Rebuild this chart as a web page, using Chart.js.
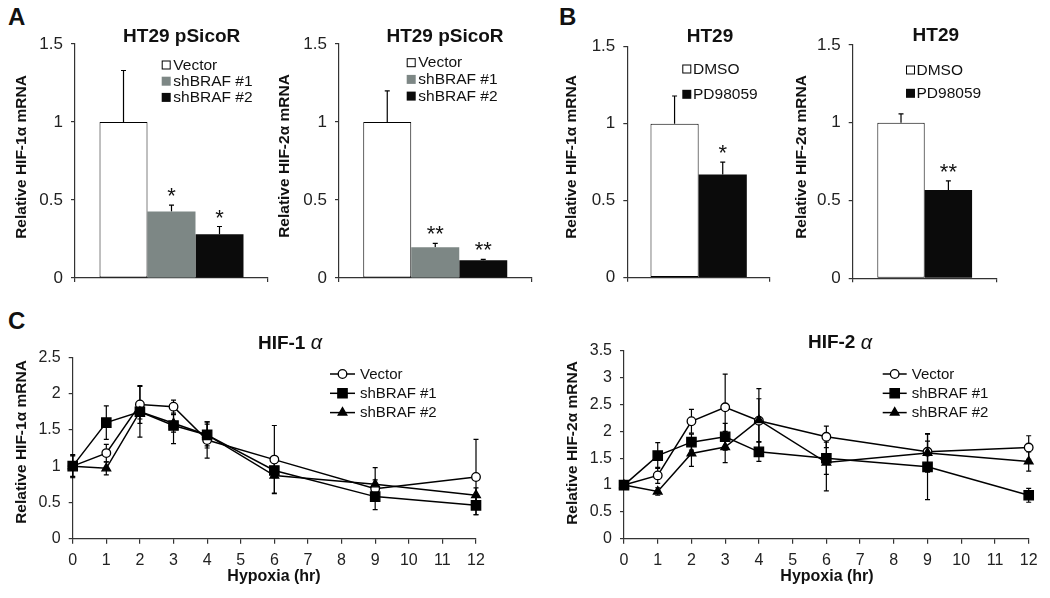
<!DOCTYPE html>
<html>
<head>
<meta charset="utf-8">
<script src="https://cdn.jsdelivr.net/npm/chart.js@4.4.0/dist/chart.umd.min.js"></script>
<style>
  html, body { margin: 0; padding: 0; background: #fff; }
  #fig { position: relative; width: 1050px; height: 598px; overflow: hidden; font-family: 'Liberation Sans', Arial, sans-serif; }
  canvas { position: absolute; }
  .tag { position: absolute; font-weight: bold; font-size: 24px; line-height: 24px; color: #111; }
</style>
</head>
<body>
<div id="fig">
  <div class="tag" style="left:8px;top:5px">A</div>
  <div class="tag" style="left:559px;top:5px">B</div>
  <div class="tag" style="left:8px;top:309px">C</div>
  <canvas id="a1" width="272" height="300" style="left:0;top:0"></canvas>
  <canvas id="a2" width="272" height="300" style="left:262px;top:0"></canvas>
  <canvas id="b1" width="235" height="300" style="left:540px;top:0"></canvas>
  <canvas id="b2" width="215" height="300" style="left:790px;top:0"></canvas>
  <canvas id="c1" width="500" height="298" style="left:0;top:300px"></canvas>
  <canvas id="c2" width="530" height="298" style="left:520px;top:300px"></canvas>
</div>
<script>
// --- panel A: HT29 pSicoR, shBRAF knockdown ---
const shLabels = ['Vector', 'shBRAF #1', 'shBRAF #2'];
const a1Values = [1.0, 0.427, 0.28];   // HIF-1a
const a1Errors = [0.33, 0.04, 0.05];
const a1Stars = ['', '*', '*'];
const a2Values = [1.0, 0.197, 0.113];  // HIF-2a
const a2Errors = [0.20, 0.025, 0.007];
const a2Stars = ['', '**', '**'];

// --- panel B: HT29, PD98059 ---
const pdLabels = ['DMSO', 'PD98059'];
const b1Values = [1.0, 0.67];
const b1Errors = [0.18, 0.08];
const b1Stars = ['', '*'];
const b2Values = [1.0, 0.568];
const b2Errors = [0.057, 0.058];
const b2Stars = ['', '**'];

// --- panel C: hypoxia time course ---
const hours = [0, 1, 2, 3, 4, 6, 9, 12];
const hif1Vector = [1.00, 1.18, 1.85, 1.82, 1.36, 1.09, 0.69, 0.85];
const hif1Sh1    = [1.00, 1.60, 1.75, 1.56, 1.43, 0.94, 0.58, 0.46];
const hif1Sh2    = [1.00, 0.97, 1.75, 1.59, 1.43, 0.87, 0.75, 0.60];
const hif1VectorErr = [0.15, 0.12, 0.26, 0.09, 0.25, 0.47, 0.12, 0.52];
const hif1Sh1Err    = [0.16, 0.23, 0.35, 0.25, 0.18, 0.10, 0.18, 0.13];
const hif1Sh2Err    = [0.14, 0.09, 0.10, 0.12, 0.15, 0.24, 0.23, 0.10];

const hif2Vector = [1.00, 1.18, 2.19, 2.45, 2.20, 1.90, 1.62, 1.70];
const hif2Sh1    = [1.00, 1.55, 1.80, 1.90, 1.62, 1.50, 1.34, 0.81];
const hif2Sh2    = [1.00, 0.88, 1.59, 1.71, 2.21, 1.42, 1.60, 1.44];
const hif2VectorErr = [0.05, 0.15, 0.22, 0.62, 0.60, 0.20, 0.20, 0.22];
const hif2Sh1Err    = [0.05, 0.24, 0.15, 0.25, 0.18, 0.30, 0.61, 0.13];
const hif2Sh2Err    = [0.05, 0.07, 0.24, 0.29, 0.40, 0.53, 0.36, 0.18];

const FONT = "'Liberation Sans', Arial, sans-serif";
const AXIS = '#333';
const shColors = ['#ffffff', '#7d8785', '#0b0b0b'];
const pdColors = ['#ffffff', '#0b0b0b'];

Chart.defaults.font.family = FONT;
Chart.defaults.color = '#222';

function numTick(v) { return String(+v.toFixed(2)); }

function marker(ctx, style, x, y, r) {
  ctx.beginPath();
  if (style === 'circle') {
    ctx.arc(x, y, r, 0, Math.PI * 2);
    ctx.fillStyle = '#fff';
  } else if (style === 'rect') {
    const s = r * Math.SQRT1_2;
    ctx.rect(x - s, y - s, 2 * s, 2 * s);
    ctx.fillStyle = '#000';
  } else {
    ctx.moveTo(x, y - r);
    ctx.lineTo(x + r * 0.866, y + r * 0.5);
    ctx.lineTo(x - r * 0.866, y + r * 0.5);
    ctx.closePath();
    ctx.fillStyle = '#000';
  }
  ctx.fill();
  ctx.stroke();
}

// error bars, stars, titles and legends
const decor = {
  id: 'decor',
  beforeDatasetsDraw(chart) {
    const ctx = chart.ctx, ys = chart.scales.y;
    ctx.save();
    ctx.strokeStyle = '#000';
    ctx.lineWidth = 1.2;
    chart.data.datasets.forEach((ds, i) => {
      if (!ds.errors) return;
      chart.getDatasetMeta(i).data.forEach((el, j) => {
        const raw = ds.data[j];
        const v = typeof raw === 'object' ? raw.y : raw;
        const e = ds.errors[j];
        const top = ys.getPixelForValue(v + e);
        const bot = ys.getPixelForValue(ds.errorBoth ? v - e : v);
        ctx.beginPath();
        ctx.moveTo(el.x, top); ctx.lineTo(el.x, bot);
        ctx.moveTo(el.x - 2.5, top); ctx.lineTo(el.x + 2.5, top);
        if (ds.errorBoth) { ctx.moveTo(el.x - 2.5, bot); ctx.lineTo(el.x + 2.5, bot); }
        ctx.stroke();
      });
    });
    ctx.restore();
  },
  afterDatasetsDraw(chart, args, opts) {
    const ctx = chart.ctx, ys = chart.scales.y;
    ctx.save();
    ctx.fillStyle = '#111';
    // significance stars
    chart.data.datasets.forEach((ds, i) => {
      if (!ds.stars || !ds.stars[0]) return;
      const el = chart.getDatasetMeta(i).data[0];
      const top = ys.getPixelForValue(ds.data[0] + ds.errors[0]);
      ctx.font = '22px ' + FONT;
      ctx.textAlign = 'center';
      ctx.textBaseline = 'alphabetic';
      ctx.fillText(ds.stars[0], el.x, top - 2);
    });
    // chart title
    const t = opts.title;
    ctx.textBaseline = 'middle';
    if (t.greek) {
      const f1 = 'bold 19px ' + FONT, f2 = 'italic 20px ' + FONT;
      ctx.font = f1; const w1 = ctx.measureText(t.text).width;
      ctx.font = f2; const w2 = ctx.measureText(t.greek).width;
      const x = t.x - (w1 + w2) / 2;
      ctx.textAlign = 'left';
      ctx.font = f1; ctx.fillText(t.text, x, t.y);
      ctx.font = f2; ctx.fillText(t.greek, x + w1, t.y);
    } else {
      ctx.font = 'bold 19px ' + FONT;
      ctx.textAlign = 'center';
      ctx.fillText(t.text, t.x, t.y);
    }
    // axis titles
    ctx.textAlign = 'center';
    ctx.font = 'bold 15.5px ' + FONT;
    ctx.save();
    ctx.translate(opts.yTitle.x, opts.yTitle.y);
    ctx.rotate(-Math.PI / 2);
    ctx.fillText(opts.yTitle.text, 0, 0);
    ctx.restore();
    if (opts.xTitle) {
      ctx.font = 'bold 16px ' + FONT;
      ctx.fillText(opts.xTitle.text, opts.xTitle.x, opts.xTitle.y);
    }
    // legend
    const L = opts.legend;
    ctx.textAlign = 'left';
    ctx.font = L.size + 'px ' + FONT;
    chart.data.datasets.forEach((ds, i) => {
      const y = L.y0 + i * L.dy;
      ctx.strokeStyle = '#000';
      if (L.kind === 'box') {
        ctx.fillStyle = ds.backgroundColor;
        ctx.fillRect(L.x, y - 4.5, 9, 9);
        if (ds.borderWidth) { ctx.lineWidth = 1; ctx.strokeRect(L.x + 0.5, y - 4, 8, 8); }
      } else {
        ctx.lineWidth = 1.5;
        ctx.beginPath(); ctx.moveTo(L.x, y); ctx.lineTo(L.x2, y); ctx.stroke();
        ctx.lineWidth = 1.3;
        marker(ctx, ds.pointStyle, (L.x + L.x2) / 2, y, ds.pointRadius);
      }
      ctx.fillStyle = '#111';
      ctx.fillText(ds.label, L.tx, y + 0.5);
    });
    ctx.restore();
  }
};

function yScale(max, width, size) {
  return {
    min: 0, max: max,
    ticks: { stepSize: 0.5, callback: numTick, font: { size: size }, color: '#222', padding: 8 },
    grid: { drawOnChartArea: false, tickLength: 4, color: AXIS, lineWidth: 1.2 },
    border: { color: AXIS, width: 1.2 },
    afterFit: s => { s.width = width; }
  };
}

function barChart(id, labels, values, errors, stars, colors, L) {
  return new Chart(document.getElementById(id), {
    type: 'bar',
    data: {
      labels: [''],
      datasets: labels.map((lab, i) => ({
        label: lab,
        data: [values[i]],
        errors: [errors[i]],
        stars: [stars[i]],
        backgroundColor: colors[i],
        borderColor: '#000',
        borderWidth: i === 0 ? 1 : 0,
        borderSkipped: false,
        categoryPercentage: L.cp,
        barPercentage: 1
      }))
    },
    options: {
      responsive: false, animation: false, devicePixelRatio: 1,
      layout: { padding: { top: L.top, right: L.right, bottom: 0, left: 0 } },
      plugins: { legend: { display: false }, tooltip: { enabled: false }, decor: L.decor },
      scales: {
        x: {
          ticks: { display: false },
          grid: { offset: true, drawOnChartArea: false, tickLength: 4, color: AXIS, lineWidth: 1.2 },
          border: { color: AXIS, width: 1.2 },
          afterFit: s => { s.height = L.xh; }
        },
        y: yScale(1.5, L.yw, 17)
      }
    },
    plugins: [decor]
  });
}

function lineSet(label, vals, errs, style, r, order) {
  return {
    label: label,
    data: hours.map((h, j) => ({ x: h, y: vals[j] })),
    errors: errs, errorBoth: true,
    borderColor: '#000', borderWidth: 1.5, tension: 0,
    pointStyle: style, pointRadius: r, pointBorderWidth: 1.3,
    pointBorderColor: '#000',
    pointBackgroundColor: style === 'circle' ? '#fff' : '#000',
    clip: false, order: order
  };
}

function lineChart(id, sets, ymax, L) {
  return new Chart(document.getElementById(id), {
    type: 'line',
    data: { datasets: sets },
    options: {
      responsive: false, animation: false, devicePixelRatio: 1,
      layout: { padding: { top: L.top, right: L.right, bottom: 0, left: 0 } },
      plugins: { legend: { display: false }, tooltip: { enabled: false }, decor: L.decor },
      scales: {
        x: {
          type: 'linear', min: 0, max: 12,
          ticks: { stepSize: 1, font: { size: 16 }, color: '#222', padding: 7 },
          grid: { drawOnChartArea: false, tickLength: 5, color: AXIS, lineWidth: 1.2 },
          border: { color: AXIS, width: 1.2 },
          afterFit: s => { s.height = 59.3; }
        },
        y: yScale(ymax, L.yw, 16)
      }
    },
    plugins: [decor]
  });
}

barChart('a1', shLabels, a1Values, a1Errors, a1Stars, shColors, {
  cp: 0.746, top: 44, right: 4, xh: 22, yw: 75,
  decor: {
    title: { text: 'HT29 pSicoR', x: 181.7, y: 36.7 },
    yTitle: { text: 'Relative HIF-1α mRNA', x: 21.7, y: 157 },
    legend: { kind: 'box', x: 161.7, tx: 173.3, y0: 65, dy: 16.2, size: 15.5 }
  }
});
barChart('a2', shLabels, a2Values, a2Errors, a2Stars, shColors, {
  cp: 0.748, top: 44, right: 2.5, xh: 22, yw: 77,
  decor: {
    title: { text: 'HT29 pSicoR', x: 183, y: 36.7 },
    yTitle: { text: 'Relative HIF-2α mRNA', x: 23, y: 156 },
    legend: { kind: 'box', x: 144.7, tx: 156.3, y0: 62.7, dy: 16.7, size: 15.5 }
  }
});
barChart('b1', pdLabels, b1Values, b1Errors, b1Stars, pdColors, {
  cp: 0.675, top: 46.7, right: 5, xh: 22.3, yw: 87.3,
  decor: {
    title: { text: 'HT29', x: 170, y: 37 },
    yTitle: { text: 'Relative HIF-1α mRNA', x: 31.7, y: 157 },
    legend: { kind: 'box', x: 142.3, tx: 153, y0: 69, dy: 25.3, size: 15.5 }
  }
});
barChart('b2', pdLabels, b2Values, b2Errors, b2Stars, pdColors, {
  cp: 0.658, top: 45, right: 8.3, xh: 21.7, yw: 62.7,
  decor: {
    title: { text: 'HT29', x: 145.8, y: 36 },
    yTitle: { text: 'Relative HIF-2α mRNA', x: 11.7, y: 157 },
    legend: { kind: 'box', x: 116, tx: 126.5, y0: 70, dy: 23.3, size: 15.5 }
  }
});

lineChart('c1', [
  lineSet('Vector', hif1Vector, hif1VectorErr, 'circle', 4.3, 3),
  lineSet('shBRAF #1', hif1Sh1, hif1Sh1Err, 'rect', 6.6, 2),
  lineSet('shBRAF #2', hif1Sh2, hif1Sh2Err, 'triangle', 5, 1)
], 2.5, {
  top: 57.3, right: 24, yw: 72.7,
  decor: {
    title: { text: 'HIF-1 ', greek: 'α', x: 290, y: 43.3 },
    yTitle: { text: 'Relative HIF-1α mRNA', x: 21.7, y: 142 },
    xTitle: { text: 'Hypoxia (hr)', x: 274, y: 276.7 },
    legend: { kind: 'line', x: 330, x2: 355, tx: 360, y0: 74, dy: 19.3, size: 15 }
  }
});
lineChart('c2', [
  lineSet('Vector', hif2Vector, hif2VectorErr, 'circle', 4.3, 3),
  lineSet('shBRAF #1', hif2Sh1, hif2Sh1Err, 'rect', 6.6, 2),
  lineSet('shBRAF #2', hif2Sh2, hif2Sh2Err, 'triangle', 5, 1)
], 3.5, {
  top: 51, right: 21.3, yw: 104,
  decor: {
    title: { text: 'HIF-2 ', greek: 'α', x: 320, y: 43 },
    yTitle: { text: 'Relative HIF-2α mRNA', x: 53, y: 143 },
    xTitle: { text: 'Hypoxia (hr)', x: 307, y: 276.7 },
    legend: { kind: 'line', x: 362.7, x2: 386.7, tx: 391.7, y0: 74, dy: 19.3, size: 15 }
  }
});
</script>
</body>
</html>
